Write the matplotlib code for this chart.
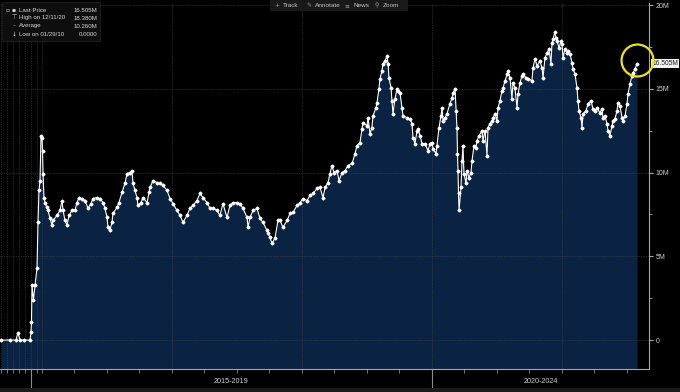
import numpy as np
import matplotlib
matplotlib.use("Agg")
import matplotlib.pyplot as plt
from matplotlib.patches import Rectangle
from matplotlib.transforms import blended_transform_factory

plt.rcParams["font.family"] = ["Liberation Sans", "DejaVu Sans"]

# observations: decimal year / value in millions
years = [
    2010.08, 2011.50, 2012.50, 2012.83, 2013.17, 2013.83, 2014.83,
    2015.00, 2015.09, 2015.18, 2015.45, 2015.73, 2016.09, 2016.27, 2016.45, 2016.64, 2016.82,
    2017.000, 2017.004, 2017.008, 2017.015, 2017.023, 2017.038, 2017.046, 2017.062, 2017.077,
    2017.085, 2017.115, 2017.138, 2017.154, 2017.162, 2017.177, 2017.192, 2017.208, 2017.231,
    2017.254, 2017.269, 2017.285, 2017.308, 2017.331, 2017.354, 2017.377, 2017.392, 2017.423,
    2017.446, 2017.469, 2017.485, 2017.500, 2017.508, 2017.523, 2017.538, 2017.546, 2017.577,
    2017.592, 2017.615, 2017.638, 2017.654, 2017.677, 2017.692, 2017.700, 2017.715, 2017.731,
    2017.738, 2017.762, 2017.777, 2017.808, 2017.823, 2017.831, 2017.854, 2017.885, 2017.908,
    2017.931, 2017.962, 2017.985,
    2018.008, 2018.038, 2018.062, 2018.085, 2018.115, 2018.138, 2018.162, 2018.192, 2018.215,
    2018.238, 2018.269, 2018.292, 2018.315, 2018.346, 2018.369, 2018.392, 2018.423, 2018.446,
    2018.469, 2018.500, 2018.523, 2018.546, 2018.577, 2018.585, 2018.600, 2018.623, 2018.654,
    2018.677, 2018.700, 2018.731, 2018.738, 2018.754, 2018.769, 2018.792, 2018.815, 2018.831,
    2018.854, 2018.885, 2018.908, 2018.931, 2018.962, 2018.985,
    2019.008, 2019.038, 2019.062, 2019.085, 2019.115, 2019.138, 2019.162, 2019.177, 2019.200,
    2019.215, 2019.231, 2019.246, 2019.269, 2019.285, 2019.308, 2019.331, 2019.354, 2019.385,
    2019.408, 2019.423, 2019.446, 2019.462, 2019.469, 2019.500, 2019.508, 2019.523, 2019.538,
    2019.546, 2019.569, 2019.577, 2019.592, 2019.600, 2019.615, 2019.623, 2019.638, 2019.654,
    2019.662, 2019.669, 2019.685, 2019.692, 2019.700, 2019.715, 2019.731, 2019.738, 2019.754,
    2019.769, 2019.777, 2019.808, 2019.831, 2019.846, 2019.854, 2019.869, 2019.885, 2019.892,
    2019.908, 2019.923, 2019.946, 2019.969, 2019.985,
    2020.000, 2020.008, 2020.031, 2020.038, 2020.054, 2020.069, 2020.077, 2020.085, 2020.100,
    2020.115, 2020.138, 2020.154, 2020.162, 2020.177, 2020.185, 2020.192, 2020.196, 2020.200,
    2020.204, 2020.208, 2020.223, 2020.231, 2020.238, 2020.246, 2020.262, 2020.269, 2020.285,
    2020.300, 2020.308, 2020.323, 2020.338, 2020.346, 2020.362, 2020.385, 2020.392, 2020.408,
    2020.423, 2020.431, 2020.446, 2020.462, 2020.469, 2020.485, 2020.500, 2020.508, 2020.523,
    2020.538, 2020.546, 2020.562, 2020.577, 2020.585, 2020.600, 2020.615, 2020.623, 2020.638,
    2020.654, 2020.662, 2020.677, 2020.692, 2020.700, 2020.723, 2020.738, 2020.769, 2020.777,
    2020.792, 2020.808, 2020.831, 2020.846, 2020.854, 2020.869, 2020.885, 2020.900, 2020.915,
    2020.923, 2020.931, 2020.945, 2020.954, 2020.962, 2020.977, 2020.992,
    2021.000, 2021.008, 2021.023, 2021.038, 2021.046, 2021.062, 2021.077, 2021.085, 2021.100,
    2021.115, 2021.123, 2021.131, 2021.146, 2021.154, 2021.162, 2021.185, 2021.200, 2021.223,
    2021.238, 2021.254, 2021.269, 2021.292, 2021.308, 2021.315, 2021.331, 2021.346, 2021.354,
    2021.369, 2021.385, 2021.392, 2021.408, 2021.423, 2021.431, 2021.446, 2021.462, 2021.469,
    2021.485, 2021.500, 2021.508, 2021.523, 2021.538, 2021.546, 2021.562, 2021.577,
]
values = [
    0.00, 0.00, 0.00, 0.45, 0.00, 0.00, 0.00,
    0.48, 1.07, 3.27, 2.38, 3.27, 4.29, 7.02, 8.93, 9.52, 12.20,
    12.08, 11.31, 9.94, 8.51, 8.21, 7.92, 7.74, 7.26, 6.85,
    7.14, 7.44, 7.74, 8.33, 7.74, 7.14, 6.85, 7.44, 7.74,
    7.74, 8.21, 8.51, 8.45, 8.33, 7.86, 8.15, 8.45, 8.51,
    8.45, 8.21, 7.86, 7.32, 6.73, 6.55, 7.02, 7.56, 7.92,
    8.21, 8.81, 9.35, 9.94, 10.00, 10.12, 9.35, 8.93, 8.51,
    8.04, 8.21, 8.51, 8.21, 8.81, 9.11, 9.52, 9.40, 9.35,
    9.23, 8.93, 8.45,
    8.15, 7.74, 7.44, 7.02, 7.44, 7.86, 8.04, 8.33, 8.75,
    8.51, 8.21, 7.86, 7.86, 7.74, 7.44, 8.15, 7.32, 8.04,
    8.21, 8.21, 8.15, 7.86, 7.32, 6.73, 7.32, 7.74, 7.86,
    7.26, 7.02, 6.55, 6.37, 6.13, 5.77, 6.07, 7.14, 7.14,
    6.73, 7.14, 7.56, 7.62, 8.04, 8.21,
    8.45, 8.33, 8.63, 8.75, 9.05, 9.11, 8.51, 9.11, 9.40,
    9.94, 10.42, 10.00, 10.12, 9.52, 10.00, 10.12, 10.42, 10.54,
    11.13, 11.61, 11.79, 12.62, 12.98, 12.80, 13.27, 12.32, 12.68,
    13.39, 13.87, 14.17, 15.00, 15.60, 16.07, 16.49, 16.67, 16.96,
    16.49, 15.65, 15.06, 14.29, 13.51, 14.40, 15.00, 14.88, 14.76,
    13.87, 13.39, 13.27, 13.21, 12.92, 12.08, 11.73, 12.50, 12.62,
    12.20, 11.73, 11.73, 11.31, 11.73,
    11.79, 11.43, 11.13, 11.61, 12.68, 13.39, 13.87, 13.10, 13.27,
    13.51, 14.11, 14.46, 14.76, 15.00, 13.69, 12.68, 11.13, 10.12,
    8.75, 7.74, 9.11, 10.71, 11.61, 9.94, 9.35, 10.12, 9.70,
    10.00, 10.71, 11.61, 11.49, 11.90, 12.20, 12.50, 11.90, 12.50,
    11.01, 12.68, 12.92, 13.10, 13.27, 13.51, 13.10, 13.87, 14.29,
    14.88, 15.06, 15.48, 15.89, 16.07, 15.65, 14.40, 15.36, 15.06,
    13.87, 14.70, 15.36, 15.77, 15.89, 15.65, 15.60, 15.48, 16.25,
    16.79, 16.37, 16.67, 16.25, 15.65, 16.85, 17.14, 17.38, 16.49,
    17.74, 17.98, 18.38, 18.04, 17.86, 17.44, 17.86,
    17.68, 16.85, 17.38, 17.14, 17.26, 17.08, 16.55, 16.19, 15.89,
    15.06, 14.29, 13.69, 13.27, 12.68, 13.51, 13.69, 14.11, 14.29,
    13.81, 13.69, 13.87, 13.57, 13.81, 13.27, 13.39, 12.92, 12.50,
    12.20, 12.80, 13.10, 13.21, 13.69, 14.17, 13.99, 13.27, 13.10,
    13.39, 14.11, 14.70, 15.30, 15.77, 15.95, 16.19, 16.505,
]

last_price = 16.505
high_date, high_val = "12/11/20", 18.380
avg_val = 10.260
low_date, low_val = "01/29/10", 0.0

period_bounds = [2015, 2020, 2025]
period_labels = ["2015-2019", "2020-2024"]
grid_years = list(range(2010, 2022))
y_ticks = [0, 5, 10, 15, 20]
y_tick_labels = ["0", "5M", "10M", "15M", "20M"]

# bloomberg squeezes the sparse early years, spreads the recent ones
kn_years = [2000, 2010, 2015, 2017, 2030]
kn_pos = [-59, 1, 31, 42, 1732]


def fwd(x):
    return np.interp(x, kn_years, kn_pos)


def inv(p):
    return np.interp(p, kn_pos, kn_years)


fig = plt.figure(figsize=(6.8, 3.92), dpi=100, facecolor="black")
ax = fig.add_axes([0, 23 / 392, 649 / 680, 366 / 392])
ax.set_facecolor("black")
ax.set_xscale("function", functions=(fwd, inv))
ax.set_xlim(inv(0), inv(649))
ax.set_ylim(-1.726, 20.12)

ax.fill_between(years, values, -5, color="#0a2343", lw=0, zorder=1)
for yr in grid_years:
    ax.axvline(yr, color="#4a4a4a", lw=0.5, ls=(0, (1, 1.5)), zorder=2)
for v in y_ticks:
    ax.axhline(v, color="#4a4a4a", lw=0.5, ls=(0, (1, 1.5)), zorder=2)
ax.plot(years, values, color="white", lw=0.8, marker="D", ms=1.5, zorder=3)

# circled last point
ax.plot(years[-1], values[-1] + 0.2, marker="o", ms=23, mfc="none",
        mec="#ece21a", mew=1.6, zorder=4, clip_on=False)

for s in ["top", "left"]:
    ax.spines[s].set_visible(False)
for s in ["right", "bottom"]:
    ax.spines[s].set_color("#a8a8a8")
    ax.spines[s].set_linewidth(0.8)

ax.yaxis.tick_right()
ax.set_yticks(y_ticks, y_tick_labels)
ax.set_yticks([2.5, 7.5, 12.5, 17.5], minor=True)
ax.tick_params(axis="y", which="both", colors="#a8a8a8", labelcolor="#d0d0d0",
               labelsize=5, direction="out", pad=2)
ax.tick_params(axis="y", which="major", length=3)
ax.tick_params(axis="y", which="minor", length=2)

minor_x = list(range(2010, 2017)) + list(np.arange(2017, 2021.7, 0.25))
ax.set_xticks(period_bounds[:2], ["", ""])
ax.set_xticks(minor_x, minor=True)
ax.tick_params(axis="x", which="major", length=14, width=0.8, color="#8a8a8a")
ax.tick_params(axis="x", which="minor", length=3, width=0.6, color="#8a8a8a")

lo, hi = ax.get_xlim()
tr = blended_transform_factory(ax.transData, ax.transAxes)
for i, lab in enumerate(period_labels):
    a = max(period_bounds[i], lo)
    b = min(period_bounds[i + 1], hi)
    mid = inv((fwd(a) + fwd(b)) / 2)
    ax.text(mid, -0.033, lab, transform=tr, ha="center", va="center",
            fontsize=5.2, color="#d0d0d0")

ax.annotate(f"{last_price:.3f}M", xy=(1, last_price), xycoords=("axes fraction", "data"),
            xytext=(2.2, 0), textcoords="offset points", ha="left", va="center",
            fontsize=4.8, color="#202020", annotation_clip=False,
            bbox=dict(boxstyle="square,pad=0.15", fc="#f2f2f2", ec="none"))

# legend panel top-left
fig.patches.append(Rectangle((2 / 680, 1 - 41 / 392), 98 / 680, 39 / 392,
                             transform=fig.transFigure, fc="#0e0e0e", ec="#262626", lw=0.5))
rows = [
    ("▪", "Last Price", f"{last_price:.3f}M"),
    ("⊤", f"High on {high_date}", f"{high_val:.3f}M"),
    ("–", "Average", f"{avg_val:.3f}M"),
    ("↓", f"Low on {low_date}", f"{low_val:.4f}"),
]
for i, (ic, lab, val) in enumerate(rows):
    yy = 1 - (10 + i * 8) / 392
    fig.text(14 / 680, yy, ic, fontsize=4.3, color="#d8d8d8", ha="center", va="center",
             family="DejaVu Sans")
    fig.text(19 / 680, yy, lab, fontsize=4.4, color="#d8d8d8", va="center")
    fig.text(97 / 680, yy, val, fontsize=4.4, color="#d8d8d8", va="center", ha="right")
fig.text(8 / 680, 1 - 10 / 392, "▫", fontsize=4.3, color="#bbbbbb", ha="center",
         va="center", family="DejaVu Sans")

# toolbar strip at top
fig.patches.append(Rectangle((270 / 680, 1 - 11 / 392), 138 / 680, 11 / 392,
                             transform=fig.transFigure, fc="#191919", ec="none"))
for xp, ic, t in [(277, "+", "Track"), (309, "✎", "Annotate"), (347, "≡", "News"),
                  (377, "⚲", "Zoom")]:
    fig.text(xp / 680, 1 - 5.5 / 392, ic, fontsize=4.2, color="#9a9a9a", va="center",
             ha="center", family="DejaVu Sans")
    fig.text((xp + 6) / 680, 1 - 5.5 / 392, t, fontsize=4.6, color="#c8c8c8", va="center")

# bottom strip
fig.patches.append(Rectangle((0, 0), 1, 4 / 392, transform=fig.transFigure,
                             fc="#1c1c1c", ec="none"))

fig.savefig("out.png", dpi=100, facecolor="black")
